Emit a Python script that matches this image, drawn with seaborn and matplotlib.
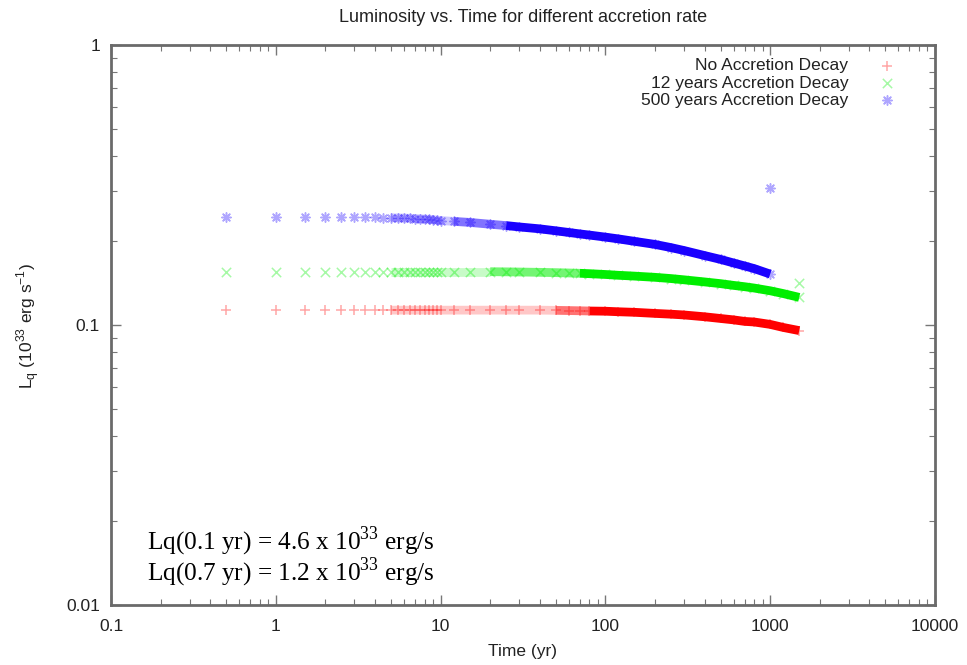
import pandas as pd
import matplotlib
matplotlib.use("Agg")
import matplotlib.pyplot as plt
import seaborn as sns

# Values (time in yr, L_q in 1e33 erg/s)
times = [0.5, 1, 1.5, 2, 2.5, 3, 3.5, 4, 4.5, 5, 5.5, 6, 6.5, 7, 7.5, 8, 8.5, 9, 9.5, 10,
         12, 15, 20, 25, 30, 40, 50, 60, 70, 80, 100, 120, 150, 200, 250, 300, 400, 500,
         600, 700, 800, 1000, 1200, 1500]

no_decay = [0.113, 0.113, 0.113, 0.113, 0.113, 0.113, 0.113, 0.113, 0.113, 0.113,
            0.113, 0.113, 0.113, 0.113, 0.113, 0.113, 0.113, 0.113, 0.113, 0.113,
            0.113, 0.113, 0.113, 0.113, 0.113, 0.113, 0.1128, 0.1126, 0.1124, 0.1122,
            0.112, 0.1115, 0.111, 0.110, 0.1093, 0.1086, 0.107, 0.1055,
            0.1043, 0.103, 0.1025, 0.1005, 0.098, 0.0955]

decay_12 = [0.155, 0.155, 0.155, 0.155, 0.155, 0.155, 0.155, 0.155, 0.155, 0.155,
            0.155, 0.155, 0.155, 0.155, 0.155, 0.155, 0.155, 0.155, 0.155, 0.155,
            0.155, 0.155, 0.155, 0.1548, 0.1546, 0.1542, 0.1538, 0.1534, 0.153, 0.1525,
            0.1515, 0.1505, 0.1495, 0.148, 0.1465, 0.145, 0.1425, 0.1405,
            0.1385, 0.137, 0.1355, 0.1325, 0.1295, 0.1255]

times_500 = times[:42]
decay_500 = [0.243, 0.243, 0.243, 0.243, 0.2428, 0.2426, 0.2424, 0.2422, 0.242, 0.2415,
             0.2412, 0.2409, 0.2405, 0.2400, 0.2396, 0.2390, 0.2385, 0.2378, 0.2370, 0.236,
             0.2345, 0.2325, 0.229, 0.2265, 0.224, 0.2205, 0.217, 0.214, 0.2115, 0.2095,
             0.206, 0.203, 0.199, 0.194, 0.189, 0.1845, 0.177, 0.1715,
             0.1665, 0.1625, 0.159, 0.152]

# stray last points
extra_12_time = [1500]
extra_12_L = [0.141]
extra_500_time = [1000]
extra_500_L = [0.308]

labels = ["No Accretion Decay", "12 years Accretion Decay", "500 years Accretion Decay"]
x_ticks = [0.1, 1, 10, 100, 1000, 10000]
x_tick_labels = ["0.1", "1", "10", "100", "1000", "10000"]
y_ticks = [0.01, 0.1, 1]
y_tick_labels = ["0.01", "0.1", "1"]

colors = ["#ff0000", "#00ee00", "#1a00ff"]
markers = ["+", "x", (8, 2, 0)]
# where the dense band turns from faint to half to full colour
band_steps = [(5, 50, 80), (5, 20, 70), (5, 12, 25)]

sns.set_style("white")
plt.rcParams["font.family"] = ["Liberation Sans", "DejaVu Sans"]

fig = plt.figure(figsize=(9.67, 6.65), dpi=100)
ax = fig.add_axes([111 / 967, 1 - 605 / 665, 824 / 967, 560 / 665])

series = [
    (times, no_decay, [], []),
    (times, decay_12, extra_12_time, extra_12_L),
    (times_500, decay_500, extra_500_time, extra_500_L),
]

for (t, L, et, eL), label, color, marker, steps in zip(series, labels, colors, markers, band_steps):
    df = pd.DataFrame({"Time": t, "L": L})
    pts = pd.concat([df, pd.DataFrame({"Time": et, "L": eL})])
    sns.scatterplot(data=pts, x="Time", y="L", ax=ax, color=color, marker=marker,
                    s=45, linewidth=1.1, alpha=0.35, label=label, zorder=2)
    t0, t1, t2 = steps
    for lo, hi, a in [(t0, t1, 0.22), (t1, t2, 0.55), (t2, 1e9, 1.0)]:
        seg = df[(df["Time"] >= lo) & (df["Time"] <= hi)]
        sns.lineplot(data=seg, x="Time", y="L", ax=ax, color=color, alpha=a,
                     linewidth=6.3, sort=False, solid_capstyle="butt", zorder=3)

ax.set_xscale("log")
ax.set_yscale("log")
ax.set_xlim(0.1, 10000)
ax.set_ylim(0.01, 1)
ax.set_xticks(x_ticks)
ax.set_xticklabels(x_tick_labels)
ax.set_yticks(y_ticks)
ax.set_yticklabels(y_tick_labels)
ax.tick_params(which="both", direction="in", top=True, right=True, bottom=True, left=True,
               color="#777777", labelsize=12.5, labelcolor="#222222")
ax.tick_params(which="major", length=7, width=1, pad=8)
ax.tick_params(which="minor", length=4, width=0.8)
ax.tick_params(axis="x", which="major", pad=10)
for sp in ax.spines.values():
    sp.set_color("#6a6a6a")
    sp.set_linewidth(2)

ax.set_xlabel("Time (yr)", fontsize=12.5, color="#222222", labelpad=7)
ax.set_ylabel("")
fig.text(28 / 967, 1 - 326 / 665,
         r"L$_\mathregular{q}$ (10$^\mathregular{33}$ erg s$^\mathregular{-1}$)",
         rotation=90, ha="center", va="center", fontsize=12.5, color="#222222")
fig.text(523 / 967, 1 - 18 / 665, "Luminosity vs. Time for different accretion rate",
         ha="center", va="center", fontsize=13, color="#222222")

ax.legend(loc="upper right", bbox_to_anchor=(0.9715, 0.9886), borderaxespad=0,
          frameon=False, markerfirst=False, fontsize=12.5, labelspacing=0.115,
          handletextpad=1.23, labelcolor="#222222")

serif = ["Liberation Serif", "DejaVu Serif"]
fig.text(147 / 967, 1 - 549 / 665, r"Lq(0.1 yr) = 4.6 x 10$^\mathregular{33}$ erg/s",
         family=serif, fontsize=18.2, va="baseline", ha="left", color="black")
fig.text(147 / 967, 1 - 580 / 665, r"Lq(0.7 yr) = 1.2 x 10$^\mathregular{33}$ erg/s",
         family=serif, fontsize=18.2, va="baseline", ha="left", color="black")

fig.savefig("out.png", dpi=100)
